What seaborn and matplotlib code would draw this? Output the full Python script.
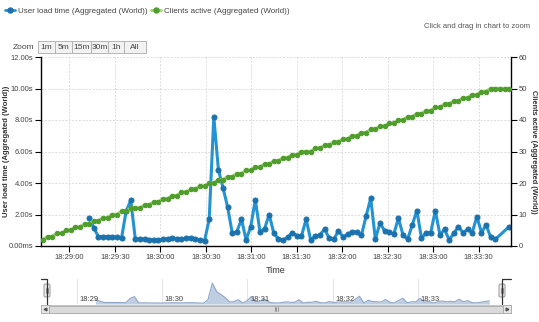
import numpy as np
import pandas as pd
import matplotlib
matplotlib.use("Agg")
import matplotlib.pyplot as plt
import matplotlib.dates as mdates
from matplotlib.lines import Line2D
from matplotlib.patches import Rectangle, FancyBboxPatch
import seaborn as sns

nan = np.nan

# Sample clock: one reading about every 3 seconds
start_time = "2013-05-14 18:28:42.65"
sample_step = "3044ms"
n_samples = 102

# User load time in seconds (Aggregated (World))
load_time = [
    nan, nan, nan, nan, nan, nan, nan, nan, nan, nan,
    1.76, 1.15, 0.59, 0.59, 0.59, 0.59, 0.55, 0.50, 2.20, 2.90,
    0.43, 0.45, 0.45, 0.40, 0.38, 0.37, 0.43, 0.46, 0.51, 0.46,
    0.43, 0.51, 0.51, 0.46, 0.38, 0.34, 1.70, 8.20, 4.84, 3.70,
    2.46, 0.81, 0.91, 1.70, 0.38, 1.23, 2.93, 0.91, 1.10, 2.00,
    0.81, 0.45, 0.38, 0.55, 0.85, 0.66, 0.64, 1.70, 0.38, 0.64,
    0.70, 1.08, 0.49, 0.43, 0.96, 0.59, 0.74, 0.91, 0.87, 0.70,
    1.90, 3.04, 0.43, 1.46, 0.97, 0.91, 0.76, 1.76, 0.70, 0.43,
    1.34, 2.25, 0.49, 0.85, 0.85, 2.25, 0.70, 1.06, 0.38, 0.81,
    1.23, 0.85, 1.06, 0.85, 1.87, 0.85, 1.34, 0.55, 0.43, nan,
    nan, 1.23,
]

# Clients active (Aggregated (World))
clients_active = [
    2, 3, 3, 4, 4, 5, 5, 6, 6, 7,
    7, 8, 8, 9, 9, 10, 10, 11, 11, 12,
    12, 12, 13, 13, 14, 14, 15, 15, 16, 16,
    17, 17, 18, 18, 19, 19, 20, 20, 21, 21,
    22, 22, 23, 23, 24, 24, 25, 25, 26, 26,
    27, 27, 28, 28, 29, 29, 30, 30, 30, 31,
    31, 32, 32, 33, 33, 34, 34, 35, 35, 36,
    36, 37, 37, 38, 38, 39, 39, 40, 40, 41,
    41, 42, 42, 43, 43, 44, 44, 45, 45, 46,
    46, 47, 47, 48, 48, 49, 49, 50, 50, 50,
    50, 50,
]

load_label = "User load time (Aggregated (World))"
clients_label = "Clients active (Aggregated (World))"
zoom_buttons = ["1m", "5m", "15m", "30m", "1h", "All"]

times = pd.date_range(start_time, periods=n_samples, freq=sample_step)
df = pd.DataFrame({"time": times, "load": load_time, "clients": clients_active})
df_load = df.dropna(subset=["load"])

BLUE_LINE = "#2393d3"
BLUE_DOT = "#1b72ad"
GREEN_LINE = "#9ad862"
GREEN_DOT = "#4f9d2d"
TXT = "#444444"

sns.set_style("white")
plt.rcParams["font.family"] = ["Liberation Sans", "DejaVu Sans"]

W, H = 539, 322
fig = plt.figure(figsize=(W / 100, H / 100), dpi=100)


def box(l, t, r, b):
    return [l / W, 1 - b / H, (r - l) / W, (b - t) / H]


# ---- main chart -------------------------------------------------------
ax = fig.add_axes(box(41, 57, 511, 246))
ax2 = ax.twinx()

sns.lineplot(data=df_load, x="time", y="load", ax=ax, color=BLUE_LINE,
             linewidth=2.2, marker="o", markersize=3.6,
             markerfacecolor=BLUE_DOT, markeredgecolor=BLUE_DOT, zorder=3)
sns.lineplot(data=df, x="time", y="clients", ax=ax2, color=GREEN_LINE,
             linewidth=2.4, marker="o", markersize=3.2,
             markerfacecolor=GREEN_DOT, markeredgecolor=GREEN_DOT, zorder=3)

x_lo = pd.Timestamp("2013-05-14 18:28:41.3")
x_hi = pd.Timestamp("2013-05-14 18:33:51.3")
ax.set_xlim(x_lo, x_hi)
ax.set_ylim(0, 12)
ax2.set_ylim(0, 60)
ax.set_yticks(np.arange(0, 13, 2))
ax2.set_yticks(np.arange(0, 61, 10))
ax.yaxis.set_major_formatter(
    plt.FuncFormatter(lambda v, p: "0.00ms" if v == 0 else f"{v:.2f}s"))
ax.xaxis.set_major_locator(mdates.SecondLocator(bysecond=[0, 30]))
ax.xaxis.set_major_formatter(mdates.DateFormatter("%H:%M:%S"))

ax.grid(True, color="#dcdcdc", linewidth=0.7, linestyle=(0, (2, 1.5)))
ax2.grid(False)
ax.set_axisbelow(True)

for s in ["top", "right"]:
    ax.spines[s].set_visible(False)
for s in ["top", "left", "bottom"]:
    ax2.spines[s].set_visible(False)
for a, s in [(ax, "left"), (ax, "bottom"), (ax2, "right")]:
    a.spines[s].set_color("black")
    a.spines[s].set_linewidth(1.0)

ax.tick_params(axis="both", which="major", length=4, width=0.8, color="black",
               labelsize=5.5, labelcolor=TXT, pad=1.5, left=True, bottom=True)
ax2.tick_params(axis="y", length=4, width=0.8, color="black", labelsize=5.5,
                labelcolor=TXT, pad=1.5, right=True)

ax.set_xlabel("Time", fontsize=6.5, color="#333333", labelpad=4)
ax.set_ylabel(load_label, fontsize=5.5, fontweight="bold", color="#333333")
ax.yaxis.set_label_coords(-0.066, 0.5)
ax2.set_ylabel(clients_label, fontsize=5.3, fontweight="bold", color="#333333",
               rotation=270, va="center")
ax2.yaxis.set_label_coords(1.048, 0.5)

# ---- legend -----------------------------------------------------------
handles = [
    Line2D([], [], color=BLUE_LINE, lw=2, marker="o", ms=3.6,
           mfc=BLUE_DOT, mec=BLUE_DOT),
    Line2D([], [], color=GREEN_LINE, lw=2, marker="o", ms=3.6,
           mfc=GREEN_DOT, mec=GREEN_DOT),
]
fig.legend(handles, [load_label, clients_label], loc="upper left",
           bbox_to_anchor=(-0.004, 1.0), ncol=2, frameon=False, fontsize=5.8,
           handlelength=1.2, handletextpad=0.35, columnspacing=0.5,
           labelcolor=TXT)

fig.text(530 / W, 1 - 27 / H, "Click and drag in chart to zoom", ha="right",
         va="center", fontsize=5.5, color="#555555")

# ---- navigator --------------------------------------------------------
nav = fig.add_axes(box(47, 279, 502, 304))
sns.lineplot(data=df_load, x="time", y="load", ax=nav, color="#8ea6c8",
             linewidth=0.8)
nav.fill_between(df_load["time"], df_load["load"], color="#b9c9df",
                 alpha=0.9, linewidth=0)
nav.set_xlim(pd.Timestamp("2013-05-14 18:28:39"),
             pd.Timestamp("2013-05-14 18:33:59"))
nav.set_ylim(0, 9.8)
nav.xaxis.set_major_locator(mdates.MinuteLocator())
nav.grid(True, axis="x", color="#e4e4e4", linewidth=0.8)
nav.set_axisbelow(True)
nav.set_xticklabels([])
nav.set_yticks([])
nav.set_xlabel("")
nav.set_ylabel("")
nav.tick_params(length=0)
for s in nav.spines.values():
    s.set_visible(False)
for tick in nav.get_xticks():
    if mdates.date2num(x_lo) <= tick <= mdates.date2num(x_hi):
        nav.annotate(mdates.num2date(tick).strftime("%H:%M"),
                     xy=(tick, 0.18), xycoords=("data", "axes fraction"),
                     xytext=(2, 0), textcoords="offset points",
                     fontsize=5.5, color=TXT, va="center", ha="left")

# ---- interface chrome (zoom buttons, handles, scrollbar) ---------------
ui = fig.add_axes([0, 0, 1, 1])
ui.set_xlim(0, W)
ui.set_ylim(H, 0)
ui.axis("off")
ui.patch.set_visible(False)

ui.text(13, 47, "Zoom", fontsize=6, color=TXT, va="center", ha="left")
edges = [38, 55, 72, 91, 108, 124, 146]
for lab, l, r in zip(zoom_buttons, edges[:-1], edges[1:]):
    ui.add_patch(Rectangle((l, 41), r - l, 12, facecolor="#f2f2f2",
                           edgecolor="#b5b5b5", linewidth=0.7))
    ui.text((l + r) / 2, 47, lab, fontsize=6, color=TXT, ha="center",
            va="center")

# navigator outline
ui.plot([41, 47, 47], [279, 279, 304], color="#333333", lw=0.9)
ui.plot([502, 502, 511], [304, 279, 279], color="#333333", lw=0.9)
for hx in (47, 502):
    ui.add_patch(FancyBboxPatch((hx - 3, 284), 6, 13,
                                boxstyle="round,pad=0,rounding_size=1.5",
                                facecolor="#ebe7e8", edgecolor="#999999",
                                linewidth=0.7))
    ui.plot([hx - 0.8, hx - 0.8], [288, 293], color="#666666", lw=0.5)
    ui.plot([hx + 0.8, hx + 0.8], [288, 293], color="#666666", lw=0.5)

# scrollbar
ui.add_patch(Rectangle((41, 305), 470, 8, facecolor="#eeeeee",
                       edgecolor="#bbbbbb", linewidth=0.6))
ui.add_patch(Rectangle((49, 305.5), 454, 7, facecolor="#dadada",
                       edgecolor="#aaaaaa", linewidth=0.6))
for bx in (41, 503):
    ui.add_patch(Rectangle((bx, 305), 8, 8, facecolor="#e6e6e6",
                           edgecolor="#aaaaaa", linewidth=0.6))
ui.plot([45], [309], marker="<", ms=2, color="#555555")
ui.plot([507], [309], marker=">", ms=2, color="#555555")
for dx in (-1.5, 0, 1.5):
    ui.plot([276 + dx, 276 + dx], [307, 311], color="#777777", lw=0.5)

fig.savefig("out.png", dpi=100, facecolor="white")
